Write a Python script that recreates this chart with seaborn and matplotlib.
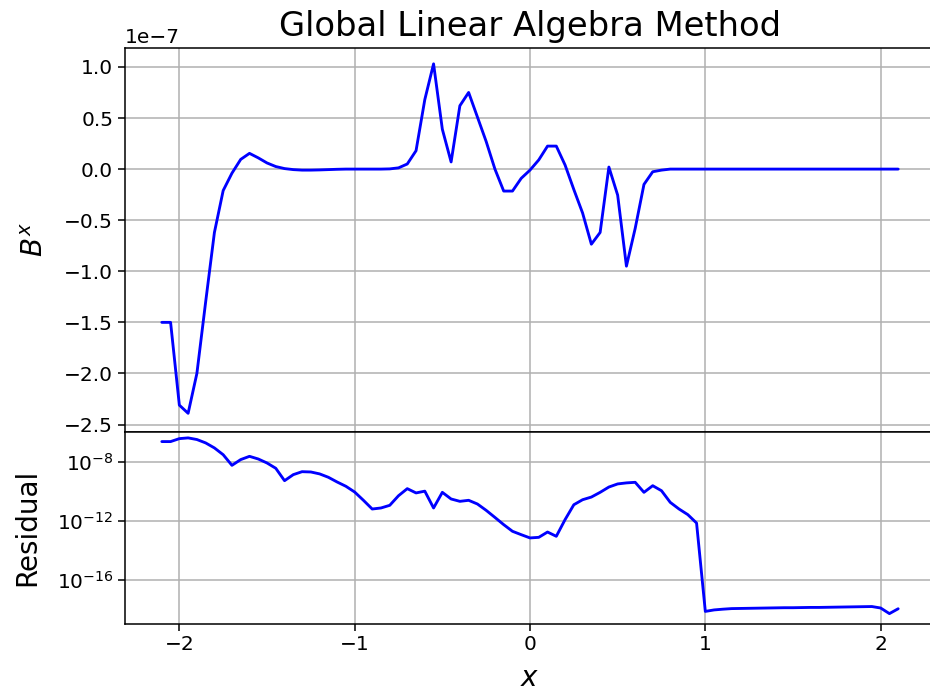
import numpy as np
import pandas as pd
import matplotlib
matplotlib.use("Agg")
import matplotlib.pyplot as plt
import seaborn as sns

# ---------------- data ----------------
x_values = [round(-2.1 + 0.05 * i, 2) for i in range(85)]

# B^x in units of 1e-7
bx_scaled = [
    -1.50, -1.50, -2.31, -2.39, -2.00, -1.30, -0.62, -0.21, -0.04, 0.095,
    0.154, 0.11, 0.06, 0.025, 0.005, -0.005, -0.01, -0.01, -0.008, -0.005,
    -0.002, 0.0, 0.0, 0.0, 0.0, 0.0, 0.002, 0.012, 0.05, 0.18,
    0.68, 1.03, 0.39, 0.07, 0.62, 0.75, 0.51, 0.27, 0.0, -0.215,
    -0.215, -0.09, -0.01, 0.09, 0.225, 0.225, 0.04, -0.20, -0.43, -0.735,
    -0.62, 0.02, -0.255, -0.95, -0.58, -0.15, -0.026, -0.01, 0.0, 0.0,
    0.0, 0.0, 0.0, 0.0, 0.0, 0.0, 0.0, 0.0, 0.0, 0.0,
    0.0, 0.0, 0.0, 0.0, 0.0, 0.0, 0.0, 0.0, 0.0, 0.0,
    0.0, 0.0, 0.0, 0.0, 0.0,
]

# log10 of the residual
residual_log10 = [
    -6.64, -6.64, -6.44, -6.39, -6.50, -6.73, -7.07, -7.53, -8.25, -7.86,
    -7.64, -7.82, -8.09, -8.45, -9.29, -8.88, -8.68, -8.70, -8.83, -9.06,
    -9.38, -9.67, -10.06, -10.62, -11.21, -11.14, -10.96, -10.31, -9.83, -10.12,
    -10.00, -11.14, -10.08, -10.53, -10.69, -10.62, -10.87, -11.30, -11.78, -12.27,
    -12.72, -12.95, -13.17, -13.13, -12.77, -13.06, -11.93, -10.92, -10.58, -10.40,
    -10.08, -9.72, -9.51, -9.44, -9.40, -10.08, -9.63, -9.97, -10.76, -11.21,
    -11.59, -12.16, -18.15, -18.05, -18.00, -17.96, -17.95, -17.94, -17.93, -17.92,
    -17.91, -17.90, -17.90, -17.89, -17.88, -17.88, -17.87, -17.86, -17.85, -17.84,
    -17.83, -17.82, -17.92, -18.30, -17.97,
]

title_text = "Global Linear Algebra Method"
residual_ticks = [1e-8, 1e-12, 1e-16]
x_ticks = [-2, -1, 0, 1, 2]

df = pd.DataFrame({
    "x": x_values,
    "bx": np.array(bx_scaled) * 1e-7,
    "res": 10.0 ** np.array(residual_log10),
})

# ---------------- style ----------------
sns.set_theme(style="ticks")
plt.rcParams["font.family"] = ["DejaVu Sans"]
plt.rcParams.update({
    "axes.edgecolor": "black",
    "axes.linewidth": 1.1,
    "xtick.major.size": 5,
    "ytick.major.size": 5,
    "xtick.major.width": 1.1,
    "ytick.major.width": 1.1,
    "xtick.labelsize": 14.5,
    "ytick.labelsize": 14.5,
    "xtick.color": "black",
    "ytick.color": "black",
    "axes.labelcolor": "black",
    "text.color": "black",
    "mathtext.fontset": "dejavusans",
})

fig = plt.figure(figsize=(9.30, 6.91), dpi=100)
left = 125 / 930
width = 810 / 930
ax1 = fig.add_axes([left, 1 - 431.7 / 691, width, (431.7 - 47.5) / 691])
ax2 = fig.add_axes([left, 1 - 623.5 / 691, width, (623.5 - 431.7) / 691], sharex=ax1)

for ax in (ax1, ax2):
    ax.grid(True, color="#b0b0b0", linewidth=1.1)
    ax.set_axisbelow(True)

sns.lineplot(data=df, x="x", y="bx", ax=ax1, color="#0000ff", linewidth=2.05, sort=False)
sns.lineplot(data=df, x="x", y="res", ax=ax2, color="#0000ff", linewidth=2.05, sort=False)

ax1.set_xlim(-2.31, 2.31)
ax1.set_ylim(-2.57e-7, 1.19e-7)
ax1.set_yticks(np.array([-2.5, -2.0, -1.5, -1.0, -0.5, 0.0, 0.5, 1.0]) * 1e-7)
ax1.yaxis.get_offset_text().set_fontsize(14.5)
ax1.tick_params(axis="x", labelbottom=False)
ax1.set_xlabel("")
ax1.set_ylabel("$B^x$", fontsize=20, labelpad=11)
ax1.set_title(title_text, fontsize=24.3, pad=8)

ax2.set_yscale("log")
ax2.set_ylim(10 ** -18.97, 10 ** -5.97)
ax2.set_yticks(residual_ticks)
ax2.yaxis.set_minor_locator(matplotlib.ticker.NullLocator())
ax2.set_xticks(x_ticks)
ax2.set_xlabel("$x$", fontsize=20, labelpad=7)
ax2.set_ylabel("Residual", fontsize=20, labelpad=11)

fig.align_ylabels([ax1, ax2])
fig.savefig("out.png", dpi=100)
